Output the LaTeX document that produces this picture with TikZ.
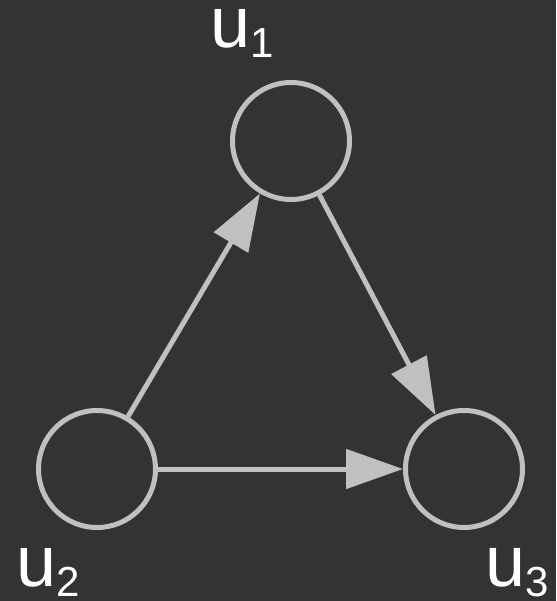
\documentclass[tikz,border=0pt]{standalone}
\usepackage{fontspec}
\setmainfont{Liberation Sans}
\usetikzlibrary{arrows.meta}
\definecolor{bg}{HTML}{333333}
\definecolor{fg}{HTML}{C0C0C0}
\tikzset{
  vertex/.style={circle, draw=fg, line width=5pt, minimum size=117pt, inner sep=0pt},
  link/.style={draw=fg, line width=5pt, -{Triangle[length=57pt,width=39pt]}, shorten >=0pt},
  lab/.style={text=white, inner sep=0pt, anchor=base west}
}
\newcommand{\vlab}[1]{\fontsize{72}{72}\selectfont u\raisebox{-10pt}{\fontsize{42}{42}\selectfont #1}}
\begin{document}
\begin{tikzpicture}[x=1pt,y=-1pt]
  \fill[bg] (0,0) rectangle (556,601);
  \useasboundingbox (0,0) rectangle (556,601);
  \node[vertex] (u1) at (291,141) {};
  \node[vertex] (u2) at (97,469) {};
  \node[vertex] (u3) at (464,469) {};
  \node[lab] (l1) at (210,47.5) {\vlab{1}};
  \node[lab] (l2) at (16,586.5) {\vlab{2}};
  \node[lab] (l3) at (485,586.5) {\vlab{3}};
  \draw[link] (u2) -- (u1);
  \draw[link] (u1) -- (u3);
  \draw[link] (u2) -- (u3);
\end{tikzpicture}
\end{document}
